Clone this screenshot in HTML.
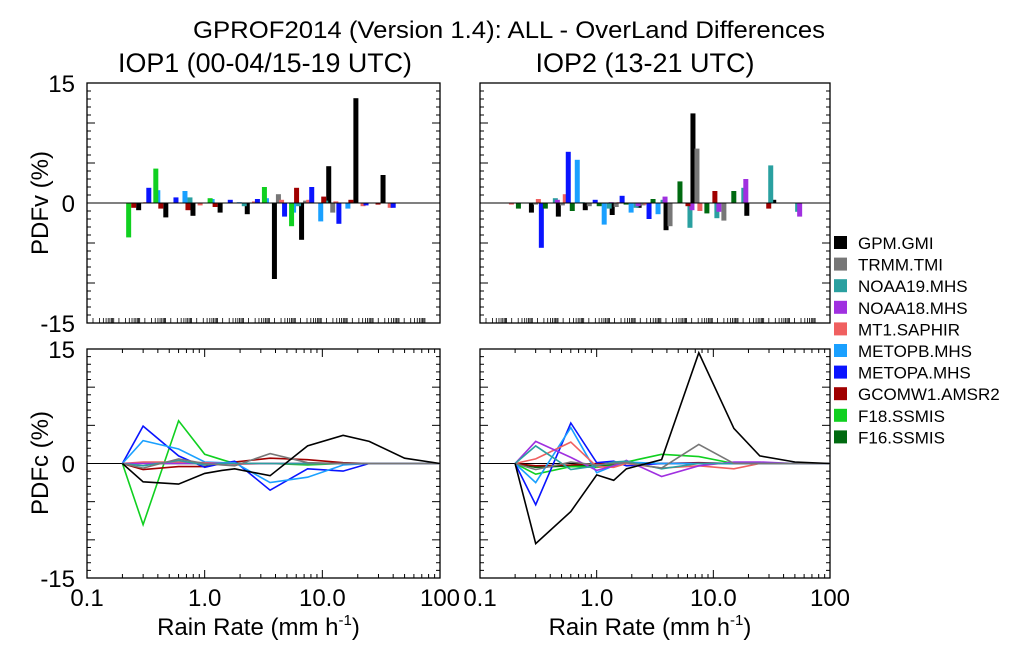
<!DOCTYPE html>
<html><head><meta charset="utf-8"><style>
html,body{margin:0;padding:0;background:#fff;}
svg{display:block;font-family:"Liberation Sans",sans-serif;}
</style></head><body>
<svg id="fig" width="1024" height="653" viewBox="0 0 1024 653">
<text x="509" y="38" font-size="24" text-anchor="middle" textLength="632" lengthAdjust="spacingAndGlyphs">GPROF2014 (Version 1.4): ALL - OverLand Differences</text>
<text x="265" y="72" font-size="27" text-anchor="middle" textLength="294" lengthAdjust="spacingAndGlyphs">IOP1 (00-04/15-19 UTC)</text>
<text x="645" y="72" font-size="27" text-anchor="middle">IOP2 (13-21 UTC)</text>
<text transform="translate(48,203) rotate(-90)" font-size="24" text-anchor="middle">PDFv (%)</text>
<text transform="translate(48,463) rotate(-90)" font-size="24" text-anchor="middle">PDFc (%)</text>
<g id="plots"></g>
<g id="legend"></g>
</svg>
<script>
const NS="http://www.w3.org/2000/svg";
const seriesNames=["GPM.GMI","TRMM.TMI","NOAA19.MHS","NOAA18.MHS","MT1.SAPHIR","METOPB.MHS","METOPA.MHS","GCOMW1.AMSR2","F18.SSMIS","F16.SSMIS"];
const seriesColors=["#000000","#777777","#2aa0a0","#a030e0","#f06060","#1aa0ff","#0a14ff","#a00000","#10d020","#006a10"];
// bar offset within bin (px) per series - style, not data
const barOff=[22,26,19,21,2,14,5,17,12,9];
// rain rates for line panels
const rates=[0.2,0.3,0.6,1.0,1.4,1.8,3.6,7.5,15,25,50,100];
// top-panel bars: values per bin (13 bins) per series
const barsIOP1={
"GPM.GMI":[0,-0.9,-1.8,-1.6,-1.2,-1.4,-9.5,-4.6,4.6,13.1,3.5,0,0],
"TRMM.TMI":[0,0,0,0,0,0,1.1,0.3,-1.2,0,0,0,0],
"NOAA19.MHS":[0,0,0,0.7,0,-0.4,0,-0.4,0.3,0,0,0,0],
"NOAA18.MHS":[0,0,0,0,0,0,0,0,0,0,0,0,0],
"MT1.SAPHIR":[0,0,0.1,0,-0.3,0,0.2,0.4,0.4,0.2,-0.4,-0.6,0],
"METOPB.MHS":[0,0,1.6,1.5,0.5,0.1,0.6,-1.2,-2.3,-0.7,0,0,0],
"METOPA.MHS":[0,0,1.9,0.7,0,0.4,0.5,-1.7,2.0,-2.6,-0.3,-0.6,0],
"GCOMW1.AMSR2":[0,-0.6,-0.7,-0.9,-0.5,0,0,1.9,0.8,0.4,-0.2,0,0],
"F18.SSMIS":[0,-4.3,4.3,0,0.6,0,2.0,-2.9,0,0,0,0,0],
"F16.SSMIS":[0,0,0,0,0,0,0,0,0,0,0,0,0]};
const barsIOP2={
"GPM.GMI":[0,-1.2,-1.7,-0.9,-1.5,-0.6,-3.4,11.2,0,-1.6,0.4,0,0],
"TRMM.TMI":[0,-0.2,-0.3,-0.4,-0.5,-0.3,-2.9,6.8,-2.2,0,0,0,0],
"NOAA19.MHS":[0,0,0.6,0.1,-0.7,-0.6,0.4,-3.1,-1.9,1.9,4.7,-1.1,0],
"NOAA18.MHS":[0,0,0.4,0,0.1,-0.4,0.8,-0.9,-1.1,3.0,0,-1.7,0],
"MT1.SAPHIR":[0,-0.2,0.5,1.1,0,0.1,-0.2,0,-1.0,0,0,0,0],
"METOPB.MHS":[0,0,0,5.4,-2.7,-1.2,-1.4,0,0,0,0,0,0],
"METOPA.MHS":[0,0,-5.6,6.4,0.4,0.9,-2.0,0,0,0,0,0,0],
"GCOMW1.AMSR2":[0,0,0,0,0,0,0,-0.4,1.5,0,-0.7,0,0],
"F18.SSMIS":[0,0,0,0,0,0,0,0,0,0,0,0,0],
"F16.SSMIS":[0,-0.7,-0.7,-1.0,-0.4,-0.2,0.5,2.7,-1.3,1.5,0,0,0]};
// bottom-panel lines: PDFc values at rates
const linesIOP1={
"GPM.GMI":[0,-2.4,-2.7,-1.3,-0.9,-0.7,-1.6,2.3,3.7,2.9,0.7,0],
"TRMM.TMI":[0,-0.6,0.6,0,-0.2,-0.3,1.3,0.1,0,0,0,0],
"NOAA19.MHS":[0,-0.3,0.4,-0.2,0,0,0,0,0,0,0,0],
"NOAA18.MHS":[0,0,0,0,0,0,0,0,0,0,0,0],
"MT1.SAPHIR":[0,0.2,0.2,0.1,0,-0.1,0,0,0,0,0,0],
"METOPB.MHS":[0,3.0,1.9,0.2,0.1,0.1,-2.5,-1.8,-0.2,0,0,0],
"METOPA.MHS":[0,4.9,1.0,-0.5,0,0.3,-3.5,-0.7,-1.0,0,0,0],
"GCOMW1.AMSR2":[0,-0.8,-0.4,-0.4,0,0.2,0.7,0.5,0.1,0,0,0],
"F18.SSMIS":[0,-8.0,5.6,1.2,0.5,0,0,-0.2,0,0,0,0],
"F16.SSMIS":[0,0,0,0,0,0,0,0,0,0,0,0]};
const linesIOP2={
"GPM.GMI":[0,-10.5,-6.3,-1.5,-2.2,-0.7,0.5,14.5,4.6,1.0,0.2,0],
"TRMM.TMI":[0,-0.8,0.2,-0.2,0,0.1,-0.6,2.5,0,0,0,0],
"NOAA19.MHS":[0,2.3,-0.8,-0.3,0.2,0.3,-0.7,0,0,0,0,0],
"NOAA18.MHS":[0,2.9,0.8,-0.9,-0.3,0.4,-1.7,-0.3,0.2,0.2,0,0],
"MT1.SAPHIR":[0,0.6,2.8,-0.4,-0.5,0,-0.6,-0.3,-0.7,0,0,0],
"METOPB.MHS":[0,-2.5,4.7,-1.2,-0.3,0.2,0,0,0,0,0,0],
"METOPA.MHS":[0,-5.4,5.3,0.1,0.3,-0.3,0,0,0,0,0,0],
"GCOMW1.AMSR2":[0,-0.3,-0.2,0,0,0.1,0,0.1,0,0,0,0],
"F18.SSMIS":[0,-1.4,-0.4,-0.5,-0.3,0.2,1.2,0.9,0,0,0,0],
"F16.SSMIS":[0,-0.5,-0.3,-0.3,-0.2,0,0,0,0,0,0,0]};
const yTickLabels=["15","0","-15"];
const xTickLabels=["0.1","1.0","10.0","100"];

const plots=document.getElementById('plots');
function mk(tag,attrs,parent){const e=document.createElementNS(NS,tag);for(const k in attrs)e.setAttribute(k,attrs[k]);(parent||plots).appendChild(e);return e;}
function panel(x0,x1,y0,y1,name){
  const g=mk('g',{});
  
  
  const ys=v=>(y0+y1)/2-v*(y1-y0)/30;
  const xs=r=>x0+(Math.log10(r)+1)*(x1-x0)/3;
  for(let v=-15;v<=15;v++){const L=(v%5==0)?8:4;const y=ys(v);
    mk('line',{x1:x0,x2:x0+L,y1:y,y2:y,stroke:'#000','stroke-width':1},g);
    mk('line',{x1:x1,x2:x1-L,y1:y,y2:y,stroke:'#000','stroke-width':1},g);}
  return {g,ys,xs};
}
function axisFrame(g,x0,x1,y0,y1){mk('rect',{x:x0,y:y0,width:x1-x0,height:y1-y0,fill:'none',stroke:'#000','stroke-width':1.3},g);
  mk('line',{x1:x0,x2:x1,y1:(y0+y1)/2,y2:(y0+y1)/2,stroke:'#000','stroke-width':1},g);}
function logTicks(g,xs,y1,y0,len,top){
  for(let d=-1;d<2;d++)for(let m=1;m<10;m++){const r=m*Math.pow(10,d);const x=xs(r);const L=m==1?len*2:len;
    mk('line',{x1:x,x2:x,y1:y1,y2:y1-L,stroke:'#000','stroke-width':1},g);
    if(top)mk('line',{x1:x,x2:x,y1:y0,y2:y0+L,stroke:'#000','stroke-width':1},g);}
}
function barPanel(x0,x1,y0,y1,data,name){
  const p=panel(x0,x1,y0,y1,name);
  const bw=(x1-x0)/13;
  for(let b=0;b<13;b++)for(let m=1;m<10;m++){const x=x0+6+b*bw*0.955+Math.log10(m)*bw*0.8;mk('line',{x1:x,x2:x,y1:y1,y2:y1-5,stroke:'#000','stroke-width':0.8},p.g);}
  seriesNames.forEach((s,si)=>{data[s].forEach((v,bi)=>{if(v===0)return;
    const y=p.ys(Math.max(v,0)),h=Math.abs(p.ys(v)-p.ys(0));
    const r=mk('rect',{x:x0+bi*bw+barOff[si],y:y,width:5,height:h,fill:seriesColors[si]},p.g);
    
    
  });});
  axisFrame(p.g,x0,x1,y0,y1);
}
function linePanel(x0,x1,y0,y1,data,name){
  const p=panel(x0,x1,y0,y1,name);
  logTicks(p.g,p.xs,y1,y0,4,true);
  axisFrame(p.g,x0,x1,y0,y1);
  for(let si=seriesNames.length-1;si>=0;si--){const s=seriesNames[si];
    const pts=rates.map((r,i)=>p.xs(r).toFixed(1)+','+p.ys(data[s][i]).toFixed(1)).join(' ');
    const l=mk('polyline',{points:pts,fill:'none',stroke:seriesColors[si],'stroke-width':1.6},p.g);
    
    }
  return p;
}
function yLabels(y0,y1,x,pre){[y0,(y0+y1)/2,y1].forEach((y,i)=>{const t=mk('text',{x:x,y:y+9,'font-size':24,'text-anchor':'end'});t.textContent=yTickLabels[i];
  
  });}
barPanel(87,440,83,323,barsIOP1,'iop1-pdfv-panel');
barPanel(480,830,83,323,barsIOP2,'iop2-pdfv-panel');
const b1=linePanel(87,440,349,578,linesIOP1,'iop1-pdfc-panel');
const b2=linePanel(480,830,349,578,linesIOP2,'iop2-pdfc-panel');
yLabels(83,323,75,'pdfv');yLabels(349,578,75,'pdfc');
[[b1,87,'iop1'],[b2,480,'iop2']].forEach(([p,x0,n])=>{
  [0.1,1,10,100].forEach((r,i)=>{const t=mk('text',{x:p.xs(r),y:606,'font-size':24,'text-anchor':'middle'});t.textContent=xTickLabels[i];
    
    });
  const t=mk('text',{x:p.xs(3.16)-5,y:635,'font-size':24,'text-anchor':'middle'});
  t.innerHTML='Rain Rate (mm h<tspan font-size="15" dy="-10">-1</tspan><tspan dy="10">)</tspan>';
  
  
});
const lg=document.getElementById('legend');
seriesNames.forEach((s,i)=>{const y=243+i*21.6;
  const g=mk('g',{},lg);
  
  
  mk('rect',{x:834,y:y-7,width:13,height:13,fill:seriesColors[i]},g);
  const t=mk('text',{x:858,y:y+6,'font-size':17},g);t.textContent=s;});
</script>
</body></html>
